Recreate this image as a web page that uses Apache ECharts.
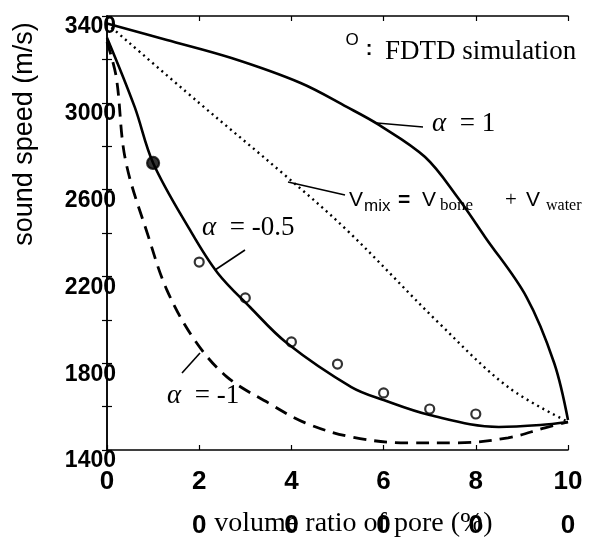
<!DOCTYPE html>
<html>
<head>
<meta charset="utf-8">
<script src="https://cdn.jsdelivr.net/npm/echarts@6/dist/echarts.min.js"></script>
<style>
  html, body { margin: 0; padding: 0; background: #fff; }
  #chart { width: 593px; height: 545px; }
</style>
</head>
<body>
<div id="chart"></div>
<script>
// volume ratio of pore (%) vs sound speed (m/s)
const xTickLabels = ["0", "20", "40", "60", "80", "100"];
const yTickLabels = ["1400", "1800", "2200", "2600", "3000", "3400"];

const alphaPlus1 = [
  [0, 3365], [13, 3289], [27, 3206], [42, 3091], [52, 2981], [59, 2898],
  [69, 2750], [76, 2566], [82, 2382], [91, 2105], [97, 1801], [100, 1538]
];
const linearMix = [
  [0, 3365], [20, 2999], [38, 2677], [52, 2414], [72, 1985], [87, 1690], [100, 1530]
];
const alphaMinusHalf = [
  [0, 3300], [6, 2981], [10, 2723], [18, 2414], [24, 2216], [31, 2059],
  [39, 1893], [53, 1690], [60, 1630], [70, 1561], [85, 1506], [94, 1515], [100, 1529]
];
const alphaMinus1 = [
  [0, 3280], [2, 3119], [4, 2737], [9, 2382], [13, 2137], [19, 1907], [26, 1737],
  [35, 1617], [43, 1525], [53, 1460], [65, 1433], [76, 1433], [87, 1456], [95, 1502], [100, 1529]
];
const fdtdX = [10, 20, 30, 40, 50, 60, 70, 80];
const fdtdY = [2723, 2266, 2101, 1898, 1796, 1663, 1589, 1566];

const SANS = '"Liberation Sans", Arial, sans-serif';
const SERIF = '"Liberation Serif", "Times New Roman", serif';

const frameAxis = {
  axisLine: { show: true, lineStyle: { color: "#000", width: 1.5 } },
  axisTick: { show: true, inside: true, length: 5, lineStyle: { color: "#000", width: 1.2 } },
  splitLine: { show: false }
};

const lineSerie = (data, lineType, width) => ({
  type: "line",
  data: data,
  smooth: 0.35,
  symbol: "none",
  silent: true,
  lineStyle: { color: "#000", width: width || 2.6, type: lineType }
});

const chart = echarts.init(document.getElementById("chart"));
chart.setOption({
  backgroundColor: "#fff",
  animation: false,
  grid: { left: 107, right: 25, top: 16, bottom: 95, outerBoundsMode: "none" },
  xAxis: [
    Object.assign({
      type: "value", min: 0, max: 100, interval: 20, position: "bottom",
      name: "volume ratio of pore (%)",
      nameLocation: "middle",
      nameGap: 60,
      nameMoveOverlap: false,
      nameTextStyle: { fontFamily: SERIF, fontSize: 28, color: "#000", padding: [0, 0, 0, 32] },
      axisLabel: {
        margin: 10,
        formatter: (v) => {
          const s = xTickLabels.find((t) => Number(t) === v) || "";
          if (s.length < 2) return "{a|" + s + "}";
          return "{a|" + s.slice(0, -1) + "}\n{a|" + s.slice(-1) + "}";
        },
        rich: { a: { fontFamily: SANS, fontWeight: "bold", fontSize: 26, lineHeight: 44, color: "#000" } }
      }
    }, frameAxis),
    Object.assign({
      type: "value", min: 0, max: 100, interval: 20, position: "top",
      axisLabel: { show: false }
    }, frameAxis)
  ],
  yAxis: [
    Object.assign({
      type: "value", min: 1400, max: 3400, interval: 200, position: "left",
      axisLabel: {
        interval: 1,
        margin: -9,
        verticalAlign: "top",
        lineHeight: 22,
        fontFamily: SANS, fontWeight: "bold", fontSize: 23, color: "#000",
        formatter: (v) => (yTickLabels.indexOf(String(v)) >= 0 ? String(v) : "")
      }
    }, frameAxis),
    Object.assign({
      type: "value", min: 1400, max: 3400, interval: 200, position: "right",
      axisLabel: { show: false }
    }, frameAxis)
  ],
  series: [
    lineSerie(alphaPlus1, "solid"),
    lineSerie(linearMix, [2, 4], 2.4),
    lineSerie(alphaMinusHalf, "solid"),
    lineSerie(alphaMinus1, [13, 8], 2.8),
    {
      type: "scatter",
      symbol: "circle",
      symbolSize: 9,
      silent: true,
      itemStyle: { color: "#fff", borderColor: "#000", borderWidth: 2.2 },
      data: fdtdX.map((x, i) => i === 0
        ? { value: [x, fdtdY[i]], symbolSize: 12, itemStyle: { color: "#000" } }
        : [x, fdtdY[i]])
    }
  ],
  graphic: [
    { type: "text", x: 25, y: 134, rotation: Math.PI / 2,
      style: { text: "sound speed (m/s)", font: "27px " + SANS, fill: "#000", align: "center", verticalAlign: "middle" } },

    { type: "text", x: 352, y: 40,
      style: { text: "O", font: "17px " + SANS, fill: "#000", align: "center", verticalAlign: "middle" } },
    { type: "text", x: 369, y: 49,
      style: { text: ":", font: "bold 20px " + SANS, fill: "#000", align: "center", verticalAlign: "middle" } },
    { type: "text", x: 385, y: 52,
      style: { text: "FDTD simulation", font: "27px " + SERIF, fill: "#000", align: "left", verticalAlign: "middle" } },

    { type: "line", shape: { x1: 377, y1: 123, x2: 423, y2: 127 }, style: { stroke: "#000", lineWidth: 1.6 } },
    { type: "text", x: 432, y: 124,
      style: { text: "{a|α}{b|  = 1}", fill: "#000", align: "left", verticalAlign: "middle",
        rich: { a: { font: "italic 27px " + SERIF }, b: { font: "27px " + SERIF } } } },

    { type: "line", shape: { x1: 288, y1: 182, x2: 345, y2: 195 }, style: { stroke: "#000", lineWidth: 1.6 } },
    { type: "text", x: 349, y: 200, style: { text: "V", font: "21px " + SANS, fill: "#000", align: "left", verticalAlign: "middle" } },
    { type: "text", x: 364, y: 206, style: { text: "mix", font: "17px " + SANS, fill: "#000", align: "left", verticalAlign: "middle" } },
    { type: "text", x: 398, y: 200, style: { text: "=", font: "bold 21px " + SANS, fill: "#000", align: "left", verticalAlign: "middle" } },
    { type: "text", x: 422, y: 200, style: { text: "V", font: "21px " + SANS, fill: "#000", align: "left", verticalAlign: "middle" } },
    { type: "text", x: 440, y: 206, style: { text: "bone", font: "17px " + SERIF, fill: "#000", align: "left", verticalAlign: "middle" } },
    { type: "text", x: 505, y: 200, style: { text: "+", font: "21px " + SERIF, fill: "#000", align: "left", verticalAlign: "middle" } },
    { type: "text", x: 526, y: 200, style: { text: "V", font: "21px " + SANS, fill: "#000", align: "left", verticalAlign: "middle" } },
    { type: "text", x: 546, y: 206, style: { text: "water", font: "16px " + SERIF, fill: "#000", align: "left", verticalAlign: "middle" } },

    { type: "line", shape: { x1: 215, y1: 270, x2: 245, y2: 250 }, style: { stroke: "#000", lineWidth: 1.6 } },
    { type: "text", x: 202, y: 228,
      style: { text: "{a|α}{b|  = -0.5}", fill: "#000", align: "left", verticalAlign: "middle",
        rich: { a: { font: "italic 27px " + SERIF }, b: { font: "27px " + SERIF } } } },

    { type: "line", shape: { x1: 182, y1: 373, x2: 200, y2: 353 }, style: { stroke: "#000", lineWidth: 1.6 } },
    { type: "text", x: 167, y: 396,
      style: { text: "{a|α}{b|  = -1}", fill: "#000", align: "left", verticalAlign: "middle",
        rich: { a: { font: "italic 27px " + SERIF }, b: { font: "27px " + SERIF } } } }
  ]
});
</script>
</body>
</html>
